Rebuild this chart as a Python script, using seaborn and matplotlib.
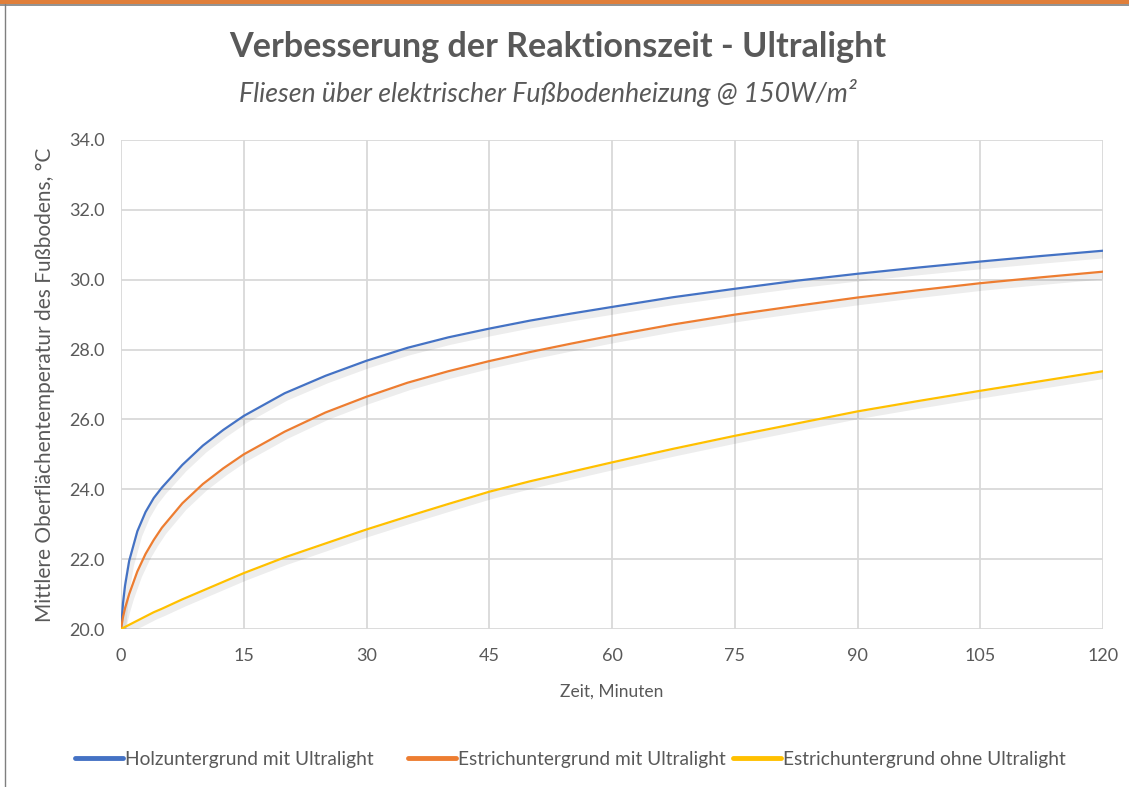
import numpy as np
import pandas as pd
import matplotlib
matplotlib.use("Agg")
import matplotlib.pyplot as plt
import matplotlib.patheffects as pe
from matplotlib.patches import Rectangle
from matplotlib.lines import Line2D
import seaborn as sns

# ---- data ----
time_min = [0, 0.25, 0.5, 1, 2, 3, 4, 5, 7.5, 10, 12.5, 15, 20, 25, 30, 35, 40, 45, 50, 55,
            60, 67.5, 75, 82.5, 90, 97.5, 105, 112.5, 120]
holz_mit = [20.0, 20.75, 21.25, 21.95, 22.8, 23.35, 23.75, 24.05, 24.7, 25.25, 25.7, 26.1,
            26.75, 27.25, 27.68, 28.05, 28.35, 28.6, 28.83, 29.03, 29.22, 29.5, 29.74,
            29.97, 30.17, 30.35, 30.52, 30.68, 30.83]
estrich_mit = [20.0, 20.35, 20.6, 21.0, 21.65, 22.15, 22.55, 22.9, 23.6, 24.15, 24.6, 25.0,
               25.65, 26.2, 26.65, 27.05, 27.38, 27.67, 27.93, 28.17, 28.4, 28.72, 29.0,
               29.25, 29.49, 29.7, 29.9, 30.07, 30.23]
estrich_ohne = [20.0, 20.03, 20.06, 20.12, 20.24, 20.36, 20.48, 20.58, 20.85, 21.1, 21.35,
                21.6, 22.05, 22.45, 22.85, 23.22, 23.58, 23.93, 24.23, 24.5, 24.77, 25.16,
                25.53, 25.88, 26.23, 26.53, 26.82, 27.1, 27.38]
series_names = ["Holzuntergrund mit Ultralight",
                "Estrichuntergrund mit Ultralight",
                "Estrichuntergrund ohne Ultralight"]
series_colors = ["#4472C4", "#ED7D31", "#FFC000"]
x_ticks = [0, 15, 30, 45, 60, 75, 90, 105, 120]
y_ticks = [20, 22, 24, 26, 28, 30, 32, 34]

title = "Verbesserung der Reaktionszeit - Ultralight"
subtitle = "Fliesen über elektrischer Fußbodenheizung @ 150W/m²"
xlabel = "Zeit, Minuten"
ylabel = "Mittlere Oberflächentemperatur des Fußbodens, °C"

frames = []
for name, vals in zip(series_names, [holz_mit, estrich_mit, estrich_ohne]):
    frames.append(pd.DataFrame({"Zeit": time_min, "Temp": vals, "Serie": name}))
df = pd.concat(frames, ignore_index=True)

sns.set_theme(style="white")
plt.rcParams['font.family'] = ['Lato', 'DejaVu Sans']
text_color = "#595959"
grid_color = "#D9D9D9"

fig = plt.figure(figsize=(11.29, 7.87), dpi=100)
ax = fig.add_axes([121/1129, 1 - 629/787, 982/1129, 489/787])

sns.lineplot(data=df, x="Zeit", y="Temp", hue="Serie", hue_order=series_names,
             palette=series_colors, linewidth=1.6, ax=ax, legend=False, sort=True)
for ln in ax.lines:
    ln.set_solid_joinstyle("round")
    ln.set_solid_capstyle("round")
    ln.set_path_effects([pe.SimpleLineShadow(offset=(1.0, -3.0), shadow_color="#000000",
                                             alpha=0.07, linewidth=5), pe.Normal()])

ax.set_xlim(0, 120)
ax.set_ylim(20, 34)
ax.set_xticks(x_ticks)
ax.set_yticks(y_ticks)
ax.set_yticklabels([f"{v:.1f}" for v in y_ticks])
ax.grid(True, color=grid_color, linewidth=1.3)
ax.set_axisbelow(True)
for s in ax.spines.values():
    s.set_visible(False)
ax.tick_params(axis="both", length=0, labelsize=13, colors=text_color)
ax.tick_params(axis="x", pad=14)
ax.tick_params(axis="y", pad=12)
ax.set_xlabel(xlabel, fontsize=12.5, color=text_color, labelpad=14)
ax.set_ylabel(ylabel, fontsize=15, color=text_color, labelpad=10)

fig.text(558/1129, 1 - 47/787, title, ha="center", va="center", fontsize=24.6,
         fontweight="bold", color=text_color)
fig.text(548/1129, 1 - 93/787, subtitle, ha="center", va="center", fontsize=19.3,
         style="italic", color=text_color)

legend_x = [75, 408, 733]
for name, col, lx in zip(series_names, series_colors, legend_x):
    h = Line2D([0], [0], color=col, linewidth=3.5)
    fig.legend([h], [name], loc="center left", bbox_to_anchor=(lx/1129, 1 - 759/787),
               frameon=False, fontsize=13.8, handlelength=2.5, handletextpad=0.1,
               borderpad=0, borderaxespad=0, labelcolor=text_color)

# frame decorations
fig.patches.append(Rectangle((0, 1 - 4/787), 1, 4/787, transform=fig.transFigure,
                             facecolor="#E07F3A", edgecolor="none"))
fig.add_artist(Line2D([0, 1], [1 - 4.5/787, 1 - 4.5/787], transform=fig.transFigure,
                      color="#7F7F7F", linewidth=1.2))
fig.add_artist(Line2D([5/1129, 5/1129], [0, 1 - 4/787], transform=fig.transFigure,
                      color="#7F7F7F", linewidth=1.0))

fig.savefig("out.png", dpi=100)
